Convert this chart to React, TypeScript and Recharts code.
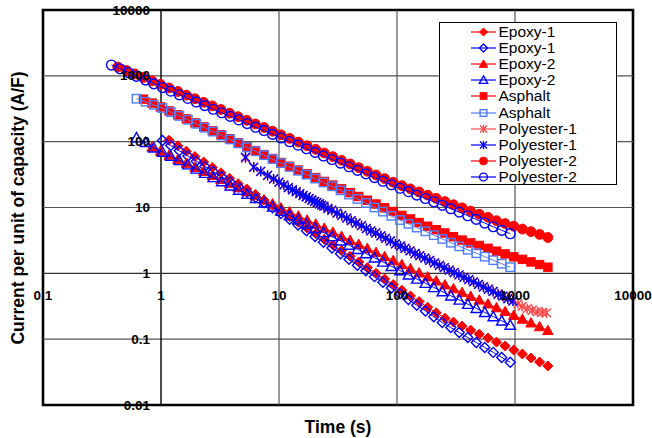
import React from "react";
import { ScatterChart, Scatter, XAxis, YAxis, ReferenceLine, ReferenceArea } from "recharts";

const FONT = '"Liberation Sans", Arial, Helvetica, sans-serif';

// plot box inside the 652x438 svg
const W = 652;
const H = 438;
const PLOT_LEFT = 43;
const PLOT_TOP = 10;
const PLOT_W = 590;
const PLOT_H = 395;
const DEC_W = PLOT_W / 5;
const DEC_H = PLOT_H / 6;
const AXIS_X = PLOT_LEFT + DEC_W; // where t = 1 s
const AXIS_Y = PLOT_TOP + 4 * DEC_H; // where i = 1 A/F

const xTicks = [0.1, 1, 10, 100, 1000, 10000];
const yTicks = [0.01, 0.1, 1, 10, 100, 1000, 10000];

// sampling times (s)
const tBlue = [0.38, 0.45, 0.53, 0.62, 0.74, 0.87, 1.03, 1.21, 1.43, 1.69, 1.99, 2.35, 2.77, 3.27, 3.86, 4.55, 5.37, 6.34, 7.48, 8.82, 10.4, 12.3, 14.5, 17.1, 20.2, 23.8, 28.1, 33.2, 39.2, 46.2, 54.5, 64.4, 75.9, 89.6, 106, 125, 147, 174, 205, 242, 286, 337, 398, 470, 554, 654, 772, 911];
const tRed = [0.43, 0.51, 0.6, 0.71, 0.84, 0.99, 1.17, 1.39, 1.64, 1.94, 2.3, 2.72, 3.22, 3.81, 4.5, 5.33, 6.3, 7.46, 8.82, 10.4, 12.3, 14.6, 17.3, 20.5, 24.2, 28.6, 33.9, 40.1, 47.4, 56.1, 66.4, 78.5, 92.9, 110, 130, 154, 182, 215, 255, 301, 356, 421, 498, 590, 697, 825, 976, 1155, 1366, 1616, 1900];
const tPoly1 = [5.2, 6.1, 7, 8, 9, 10, 11, 12, 13, 14, 15, 16, 17, 18, 19, 20, 21, 22, 23, 24, 26, 28, 31, 34, 37.5, 41, 45, 50, 55, 60, 66, 73, 80, 88, 97, 107, 117, 129, 142, 156, 172, 189, 208, 229, 252, 277, 305, 335, 369, 406, 446, 491, 540, 594, 653, 719, 790, 870, 960];
const tPoly1Tail = [1060, 1150, 1270, 1400, 1550, 1700, 1850];

// current per unit of capacity (A/F)
const epoxy1Red = [105, 86.6, 71.6, 59.3, 49.1, 40.6, 33.6, 27.8, 23, 19.1, 15.8, 13, 10.8, 8.85, 7.26, 5.96, 4.89, 4.01, 3.29, 2.7, 2.21, 1.82, 1.49, 1.22, 1, 0.82, 0.675, 0.553, 0.454, 0.372, 0.305, 0.251, 0.208, 0.182, 0.158, 0.137, 0.119, 0.104, 0.0904, 0.0787, 0.0684, 0.0596, 0.0518, 0.045, 0.0391];
const epoxy1Blue = [104, 87.1, 72.6, 60.5, 50.5, 42.1, 35.1, 29.2, 24.4, 20.4, 17, 14.2, 11.8, 9.87, 8.09, 6.62, 5.42, 4.44, 3.63, 2.97, 2.43, 1.99, 1.63, 1.33, 1.09, 0.891, 0.73, 0.597, 0.489, 0.4, 0.327, 0.268, 0.219, 0.179, 0.15, 0.126, 0.106, 0.0891, 0.0748, 0.063, 0.0528, 0.0445];
const epoxy2Red = [83, 72.1, 62.5, 54.3, 47.1, 40.9, 35.5, 30.8, 26.7, 23.2, 20.1, 17.5, 15.1, 13.1, 11.4, 9.9, 8.6, 7.45, 6.47, 5.61, 4.86, 4.23, 3.66, 3.18, 2.76, 2.39, 2.08, 1.8, 1.57, 1.36, 1.18, 1.02, 0.887, 0.769, 0.67, 0.586, 0.513, 0.449, 0.394, 0.344, 0.301, 0.264, 0.231, 0.202, 0.177, 0.155, 0.136];
const epoxy2Blue = [115, 97.7, 80.6, 69.6, 60.1, 51.8, 44.7, 38.5, 33.2, 28.6, 24.7, 21.3, 18.4, 15.9, 13.7, 11.8, 10.2, 8.77, 7.57, 6.53, 5.62, 4.85, 4.18, 3.61, 3.12, 2.69, 2.32, 2, 1.72, 1.49, 1.28, 1.1, 0.951, 0.82, 0.709, 0.611, 0.527, 0.456, 0.394, 0.34, 0.294, 0.255, 0.22, 0.19, 0.164];
const asphaltRed = [442, 385, 337, 293, 255, 222, 193, 168, 146, 127, 111, 96.6, 84, 73.1, 63.7, 55.4, 48.3, 42.4, 37.1, 32.5, 28.5, 24.9, 21.9, 19.2, 16.8, 14.7, 12.9, 11.3, 9.9, 8.7, 7.6, 6.7, 5.9, 5.2, 4.6, 4.1, 3.6, 3.2, 2.9, 2.65, 2.4, 2.17, 1.97, 1.78, 1.63, 1.49, 1.36, 1.24];
const asphaltBlue = [449, 404, 362, 324, 282, 246, 215, 187, 163, 142, 124, 108, 94.2, 82, 71.4, 62.3, 54.3, 47.3, 41.3, 36.1, 31.5, 27.5, 24, 21, 18.2, 15.7, 13.5, 11.7, 10, 8.65, 7.45, 6.46, 5.65, 4.95, 4.35, 3.8, 3.33, 2.92, 2.57, 2.28, 2.02, 1.79, 1.58, 1.4, 1.24];
const poly1Red = [56, 40.5, 35.2, 30.6, 27, 24.1, 21.9, 20, 18.5, 17.3, 16.2, 15.2, 14.4, 13.6, 12.9, 12.3, 11.8, 11.3, 10.8, 10.4, 9.6, 9, 8.2, 7.5, 6.9, 6.3, 5.8, 5.3, 4.8, 4.4, 4.1, 3.7, 3.4, 3.1, 2.8, 2.6, 2.4, 2.2, 2, 1.86, 1.7, 1.57, 1.44, 1.32, 1.22, 1.12, 1.03, 0.95, 0.87, 0.8, 0.74, 0.68, 0.63, 0.58, 0.53, 0.49, 0.45, 0.42, 0.385, 0.345, 0.315, 0.29, 0.275, 0.262, 0.255, 0.25];
const poly1Blue = [58.3, 41.1, 35.5, 30.8, 27.2, 24.3, 22, 20.1, 18.6, 17.4, 16.3, 15.3, 14.5, 13.7, 13, 12.4, 11.9, 11.4, 10.9, 10.5, 9.7, 9.1, 8.2, 7.6, 6.9, 6.3, 5.8, 5.3, 4.8, 4.4, 4.1, 3.7, 3.4, 3.1, 2.8, 2.6, 2.4, 2.2, 2, 1.86, 1.7, 1.57, 1.44, 1.32, 1.22, 1.12, 1.03, 0.95, 0.87, 0.8, 0.74, 0.68, 0.62, 0.57, 0.53, 0.48, 0.45, 0.41, 0.38];
const poly2Red = [1361, 1205, 1069, 946, 839, 743, 655, 578, 509, 449, 396, 349, 308, 271, 239, 211, 186, 164, 144, 127, 112, 98.5, 86.7, 76.3, 67.2, 59.2, 52, 45.8, 40.3, 35.5, 31.2, 27.5, 24.2, 21.5, 19.2, 17.2, 15.4, 13.8, 12.3, 11, 9.9, 8.8, 7.9, 7.1, 6.3, 5.7, 5.2, 4.7, 4.3, 3.9, 3.5];
const poly2Blue = [1459, 1279, 1122, 984, 861, 755, 664, 585, 515, 454, 401, 353, 311, 275, 242, 214, 188, 166, 147, 129, 114, 100, 88.5, 78, 68.8, 60.7, 53.6, 47.2, 41.6, 36.7, 32.4, 28.5, 25.1, 22.2, 19.6, 17.4, 15.4, 13.7, 12.2, 10.8, 9.6, 8.5, 7.5, 6.6, 5.8, 5.1, 4.5, 4.0];

const RED = "#ff0000";
const BLUE = "#0000ff";
const SKY = "#4f7dff";
const PINK = "#ff4848";

type Shape = "diamond" | "triangle" | "square" | "star" | "circle";

interface SeriesDef {
  name: string;
  color: string;
  shape: Shape;
  open: boolean;
  times: number[];
  start: number;
  values: number[];
}

// drawn in legend order, later series on top
const series: SeriesDef[] = [
  { name: "Epoxy-1", color: RED, shape: "diamond", open: false, times: tRed, start: 6, values: epoxy1Red },
  { name: "Epoxy-1", color: BLUE, shape: "diamond", open: true, times: tBlue, start: 6, values: epoxy1Blue },
  { name: "Epoxy-2", color: RED, shape: "triangle", open: false, times: tRed, start: 4, values: epoxy2Red },
  { name: "Epoxy-2", color: BLUE, shape: "triangle", open: true, times: tBlue, start: 3, values: epoxy2Blue },
  { name: "Asphalt", color: RED, shape: "square", open: false, times: tRed, start: 3, values: asphaltRed },
  { name: "Asphalt", color: SKY, shape: "square", open: true, times: tBlue, start: 3, values: asphaltBlue },
  { name: "Polyester-1", color: PINK, shape: "star", open: false, times: tPoly1.concat(tPoly1Tail), start: 0, values: poly1Red },
  { name: "Polyester-1", color: BLUE, shape: "star", open: false, times: tPoly1, start: 0, values: poly1Blue },
  { name: "Polyester-2", color: RED, shape: "circle", open: false, times: tRed, start: 0, values: poly2Red },
  { name: "Polyester-2", color: BLUE, shape: "circle", open: true, times: tBlue, start: 0, values: poly2Blue },
];

const toPoints = (s: SeriesDef) => s.values.map((v, k) => ({ t: s.times[s.start + k], i: v }));

interface GlyphProps {
  shape: Shape;
  color: string;
  open: boolean;
  cx: number;
  cy: number;
  k?: number;
}

const Glyph = ({ shape, color, open, cx, cy, k = 1 }: GlyphProps) => {
  const fill = open ? "none" : color;
  const sw = open ? 1.4 : 1;
  switch (shape) {
    case "diamond": {
      const r = 5 * k;
      return (
        <polygon
          points={`${cx},${cy - r} ${cx + r},${cy} ${cx},${cy + r} ${cx - r},${cy}`}
          fill={fill}
          stroke={color}
          strokeWidth={sw}
        />
      );
    }
    case "triangle": {
      const r = 5.2 * k;
      return (
        <polygon
          points={`${cx},${cy - r} ${cx + r},${cy + r * 0.8} ${cx - r},${cy + r * 0.8}`}
          fill={fill}
          stroke={color}
          strokeWidth={sw}
        />
      );
    }
    case "square": {
      const r = 4.2 * k;
      return <rect x={cx - r} y={cy - r} width={2 * r} height={2 * r} fill={fill} stroke={color} strokeWidth={sw} />;
    }
    case "star": {
      const r = 4.4 * k;
      return (
        <g stroke={color} strokeWidth={1.4}>
          <line x1={cx - r} y1={cy - r} x2={cx + r} y2={cy + r} />
          <line x1={cx - r} y1={cy + r} x2={cx + r} y2={cy - r} />
          <line x1={cx} y1={cy - r * 1.15} x2={cx} y2={cy + r * 1.15} />
        </g>
      );
    }
    default:
      return <circle cx={cx} cy={cy} r={4.9 * k} fill={fill} stroke={color} strokeWidth={sw} />;
  }
};

const fmt = (v: number) => String(v);

const renderXTick = (props: any) => {
  const { x, payload } = props;
  return (
    <text
      x={x}
      y={AXIS_Y + 22}
      textAnchor="middle"
      dominantBaseline="central"
      fontFamily={FONT}
      fontSize={13.5}
      fontWeight="bold"
      fill="#000"
    >
      {fmt(payload.value)}
    </text>
  );
};

const renderYTick = (props: any) => {
  const { y, payload } = props;
  return (
    <text
      x={AXIS_X - 11}
      y={y}
      textAnchor="end"
      dominantBaseline="central"
      fontFamily={FONT}
      fontSize={13.5}
      fontWeight="bold"
      fill="#000"
    >
      {fmt(payload.value)}
    </text>
  );
};

const LegendBox = () => (
  <div
    style={{
      position: "absolute",
      left: 439,
      top: 22,
      width: 145,
      height: 160,
      border: "1.5px solid #000",
      background: "#fff",
      paddingTop: 1,
      paddingLeft: 30.5,
      fontFamily: FONT,
      fontSize: 15.5,
      color: "#000",
    }}
  >
    {series.map((s, k) => (
      <div key={k} style={{ display: "flex", alignItems: "center", height: 16.1, lineHeight: "16px" }}>
        <svg width={28} height={12} style={{ flex: "none" }}>
          <line x1={0} y1={6} x2={25} y2={6} stroke={s.color} strokeWidth={1.2} />
          <Glyph shape={s.shape} color={s.color} open={s.open} cx={12.5} cy={6} k={0.8} />
        </svg>
        <span style={{ whiteSpace: "nowrap" }}>{s.name}</span>
      </div>
    ))}
  </div>
);

export default function App() {
  return (
    <div style={{ position: "absolute", left: 0, top: 0, width: W, height: H, background: "#fff" }}>
      <ScatterChart
        width={W}
        height={H}
        margin={{ top: PLOT_TOP, right: W - PLOT_LEFT - PLOT_W, bottom: H - PLOT_TOP - PLOT_H - 1, left: PLOT_LEFT - 1 }}
      >
        <XAxis
          type="number"
          dataKey="t"
          scale="log"
          domain={[0.1, 10000]}
          ticks={xTicks}
          interval={0}
          allowDataOverflow
          height={1}
          axisLine={false}
          tickLine={false}
          tick={renderXTick}
        />
        <YAxis
          type="number"
          dataKey="i"
          scale="log"
          domain={[0.01, 10000]}
          ticks={yTicks}
          interval={0}
          allowDataOverflow
          width={1}
          axisLine={false}
          tickLine={false}
          tick={renderYTick}
        />
        {[10, 100, 1000].map((v) => (
          <ReferenceLine key={`gx${v}`} x={v} stroke="#555" strokeWidth={1.2} />
        ))}
        {[0.1, 10, 100, 1000].map((v) => (
          <ReferenceLine key={`gy${v}`} y={v} stroke="#555" strokeWidth={1.2} />
        ))}
        <ReferenceLine x={1} stroke="#000" strokeWidth={1.4} />
        <ReferenceLine y={1} stroke="#333" strokeWidth={1.4} />
        <ReferenceArea x1={0.1} x2={10000} y1={0.01} y2={10000} fill="none" stroke="#000" strokeWidth={2.6} />
        {series.map((s, k) => (
          <Scatter
            key={k}
            name={s.name}
            data={toPoints(s)}
            fill={s.color}
            line={{ stroke: s.color, strokeWidth: 1 }}
            lineType="joint"
            isAnimationActive={false}
            shape={(p: any) => <Glyph shape={s.shape} color={s.color} open={s.open} cx={p.cx} cy={p.cy} />}
          />
        ))}
      </ScatterChart>
      <LegendBox />
      <div
        style={{
          position: "absolute",
          left: PLOT_LEFT,
          width: PLOT_W,
          top: 417,
          textAlign: "center",
          fontFamily: FONT,
          fontSize: 17.5,
          fontWeight: "bold",
          lineHeight: "20px",
        }}
      >
        Time (s)
      </div>
      <div
        style={{
          position: "absolute",
          left: 18 - 200,
          top: PLOT_TOP + PLOT_H / 2 - 10,
          width: 400,
          textAlign: "center",
          fontFamily: FONT,
          fontSize: 17.5,
          fontWeight: "bold",
          lineHeight: "20px",
          transform: "rotate(-90deg)",
        }}
      >
        Current per unit of capacity (A/F)
      </div>
    </div>
  );
}
